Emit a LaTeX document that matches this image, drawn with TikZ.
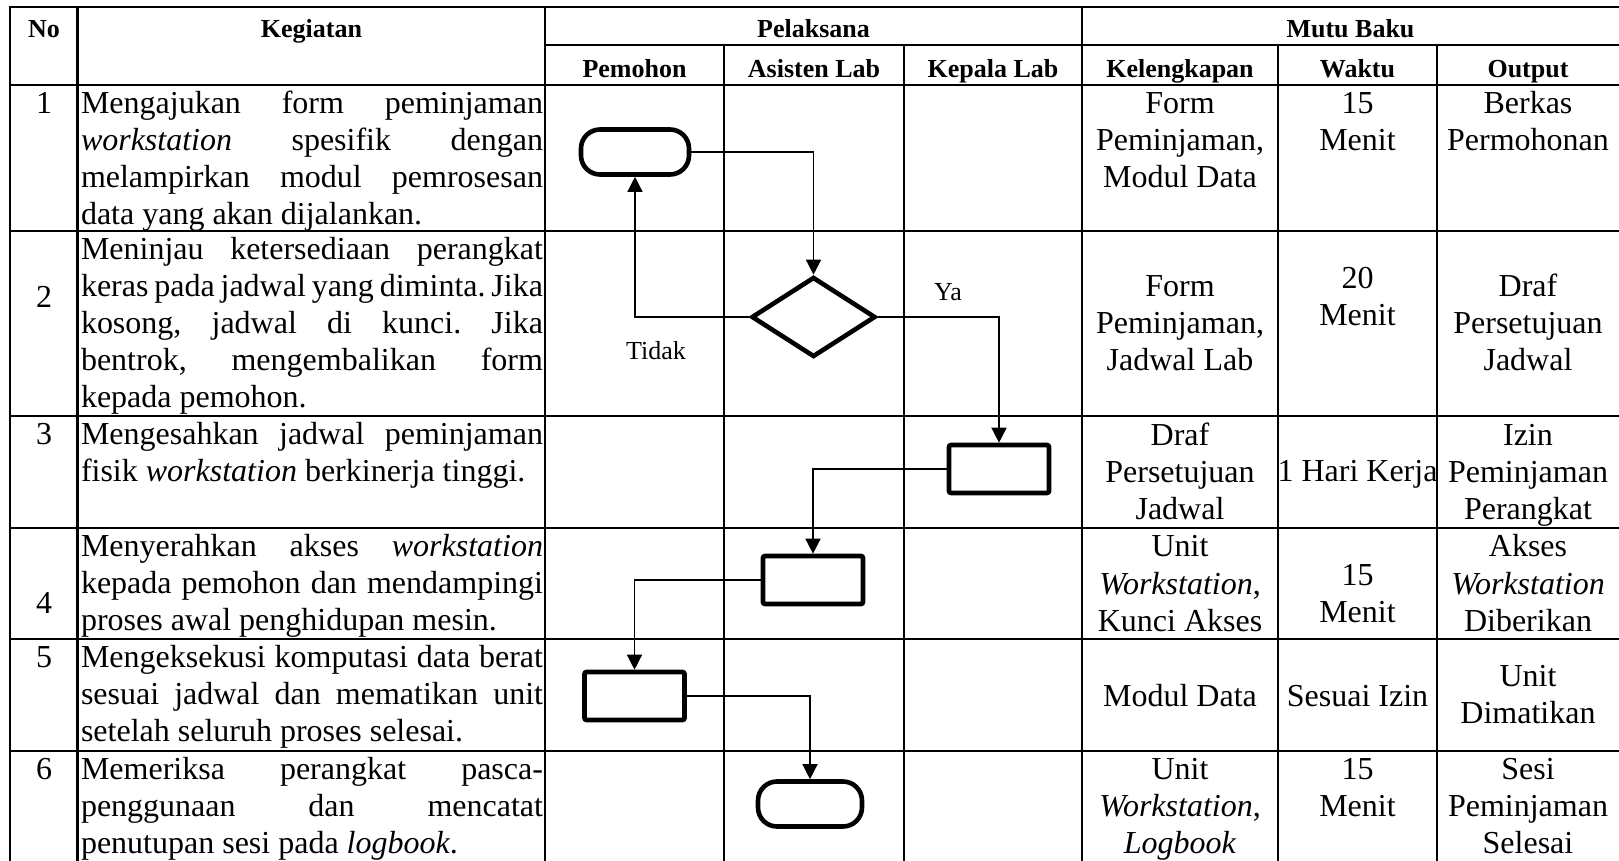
\documentclass[tikz,border=0pt]{standalone}
\usepackage{fontspec}
\setmainfont{Liberation Serif}
\usetikzlibrary{shapes.geometric,arrows.meta}

% one justified line of the activity column
\newcommand{\jl}[1]{\makebox[231pt][s]{#1}}

\begin{document}
\begin{tikzpicture}[x=0.5pt,y=-0.5pt,
  grid/.style={line width=1.1pt},
  body/.style={font=\fontsize{16pt}{18.5pt}\selectfont\frenchspacing, inner sep=0pt, outer sep=0pt},
  kcell/.style={body, align=left, anchor=north west},
  ccell/.style={body, align=center, anchor=north},
  num/.style={body, anchor=base},
  head/.style={font=\fontsize{13pt}{15pt}\selectfont\bfseries, inner sep=0pt, anchor=base},
  lbl/.style={font=\fontsize{13pt}{15pt}\selectfont, inner sep=0pt, anchor=base},
  shapeline/.style={draw, line width=2.3pt, fill=white, inner sep=0pt},
  term/.style={shapeline, rectangle, rounded corners=9.5pt, minimum width=54pt, minimum height=22.5pt},
  proc/.style={shapeline, rectangle, rounded corners=1pt, minimum width=50pt, minimum height=24pt},
  dec/.style={shapeline, diamond, minimum width=62pt, minimum height=40pt},
  flow/.style={line width=0.7pt, -{Triangle[length=7.5pt,width=7.5pt]}},
]
\useasboundingbox (0,0) rectangle (1619,861);

% ---- table rules ----
\draw[grid] (10,7) rectangle (1622,863);
\foreach \y in {85,231,416,528,639,751} \draw[grid] (10,\y) -- (1622,\y);
\draw[grid] (545,45) -- (1622,45);
\foreach \x in {77.5,545,1082} \draw[grid] (\x,7) -- (\x,863);
\foreach \x in {724,904,1278,1437} \draw[grid] (\x,45) -- (\x,863);

% ---- header ----
\node[head] (hno)   at (44,37.5)    {No};
\node[head] (hkeg)  at (311.5,37.5) {Kegiatan};
\node[head] (hpel)  at (813.5,37.5) {Pelaksana};
\node[head] (hmutu) at (1350.5,37.5) {Mutu Baku};
\node[head] (hpem)  at (634.5,78) {Pemohon};
\node[head] (hast)  at (814,78)   {Asisten Lab};
\node[head] (hkep)  at (993,78)   {Kepala Lab};
\node[head] (hkel)  at (1180,78)  {Kelengkapan};
\node[head] (hwak)  at (1357.5,78) {Waktu};
\node[head] (hout)  at (1528,78)  {Output};

% ---- row numbers ----
\node[num] (n1) at (44,113.5) {1};
\node[num] (n2) at (44,308)   {2};
\node[num] (n3) at (44,444.5) {3};
\node[num] (n4) at (44,613)   {4};
\node[num] (n5) at (44,667.5) {5};
\node[num] (n6) at (44,779.5) {6};

% ---- activities ----
\node[kcell] (k1) at (81,87.6) {\strut\jl{Mengajukan form peminjaman}\\
  \jl{\textit{workstation} spesifik dengan}\\
  \jl{melampirkan modul pemrosesan}\\
  data yang akan dijalankan.};
\node[kcell] (k2) at (81,233.6) {\strut\jl{Meninjau ketersediaan perangkat}\\
  \jl{keras pada jadwal yang diminta. Jika}\\
  \jl{kosong, jadwal di kunci. Jika}\\
  \jl{bentrok, mengembalikan form}\\
  kepada pemohon.};
\node[kcell] (k3) at (81,418.6) {\strut\jl{Mengesahkan jadwal peminjaman}\\
  fisik \textit{workstation} berkinerja tinggi.};
\node[kcell] (k4) at (81,530.6) {\strut\jl{Menyerahkan akses \textit{workstation}}\\
  \jl{kepada pemohon dan mendampingi}\\
  proses awal penghidupan mesin.};
\node[kcell] (k5) at (81,641.6) {\strut\jl{Mengeksekusi komputasi data berat}\\
  \jl{sesuai jadwal dan mematikan unit}\\
  setelah seluruh proses selesai.};
\node[kcell] (k6) at (81,753.6) {\strut\jl{Memeriksa perangkat pasca-}\\
  \jl{penggunaan dan mencatat}\\
  penutupan sesi pada \textit{logbook}.};

% ---- Kelengkapan ----
\node[ccell] (kl1) at (1180,87.6)  {\strut Form\\Peminjaman,\\Modul Data};
\node[ccell] (kl2) at (1180,270.6) {\strut Form\\Peminjaman,\\Jadwal Lab};
\node[ccell] (kl3) at (1180,419.1) {\strut Draf\\Persetujuan\\Jadwal};
\node[ccell] (kl4) at (1180,531.1) {\strut Unit\\\textit{Workstation},\\Kunci Akses};
\node[num]   (kl5) at (1180,706)   {Modul Data};
\node[ccell] (kl6) at (1180,753.6) {\strut Unit\\\textit{Workstation},\\\textit{Logbook}};

% ---- Waktu ----
\node[ccell] (w1) at (1357.5,87.6)  {\strut 15\\Menit};
\node[ccell] (w2) at (1357.5,263.1) {\strut 20\\Menit};
\node[num]   (w3) at (1357.5,481)   {1 Hari Kerja};
\node[ccell] (w4) at (1357.5,559.1) {\strut 15\\Menit};
\node[num]   (w5) at (1357.5,706)   {Sesuai Izin};
\node[ccell] (w6) at (1357.5,753.6) {\strut 15\\Menit};

% ---- Output ----
\node[ccell] (o1) at (1528,87.6)  {\strut Berkas\\Permohonan};
\node[ccell] (o2) at (1528,270.6) {\strut Draf\\Persetujuan\\Jadwal};
\node[ccell] (o3) at (1528,419.1) {\strut Izin\\Peminjaman\\Perangkat};
\node[ccell] (o4) at (1528,531.1) {\strut Akses\\\textit{Workstation}\\Diberikan};
\node[ccell] (o5) at (1528,660.1) {\strut Unit\\Dimatikan};
\node[ccell] (o6) at (1528,753.6) {\strut Sesi\\Peminjaman\\Selesai};

% ---- flowchart ----
\node[term] (start) at (635,152) {};
\node[dec]  (cek)   at (813.5,317) {};
\node[proc] (sah)   at (999,469) {};
\node[proc] (serah) at (813,580) {};
\node[proc] (eksek) at (634.5,696) {};
\node[term, minimum width=52pt] (akhir) at (810,804) {};

\draw[flow] (start.east) -| (cek.north);
\draw[flow] (cek.west) -| (start.south);
\draw[flow] (cek.east) -| (sah.north);
\draw[flow] (sah.west) -| (serah.north);
\draw[flow] (serah.west) -| (eksek.north);
\draw[flow] (eksek.east) -| (akhir.north);

\node[lbl] (ya)    at (948,301) {Ya};
\node[lbl] (tidak) at (656,360) {Tidak};
\end{tikzpicture}
\end{document}
